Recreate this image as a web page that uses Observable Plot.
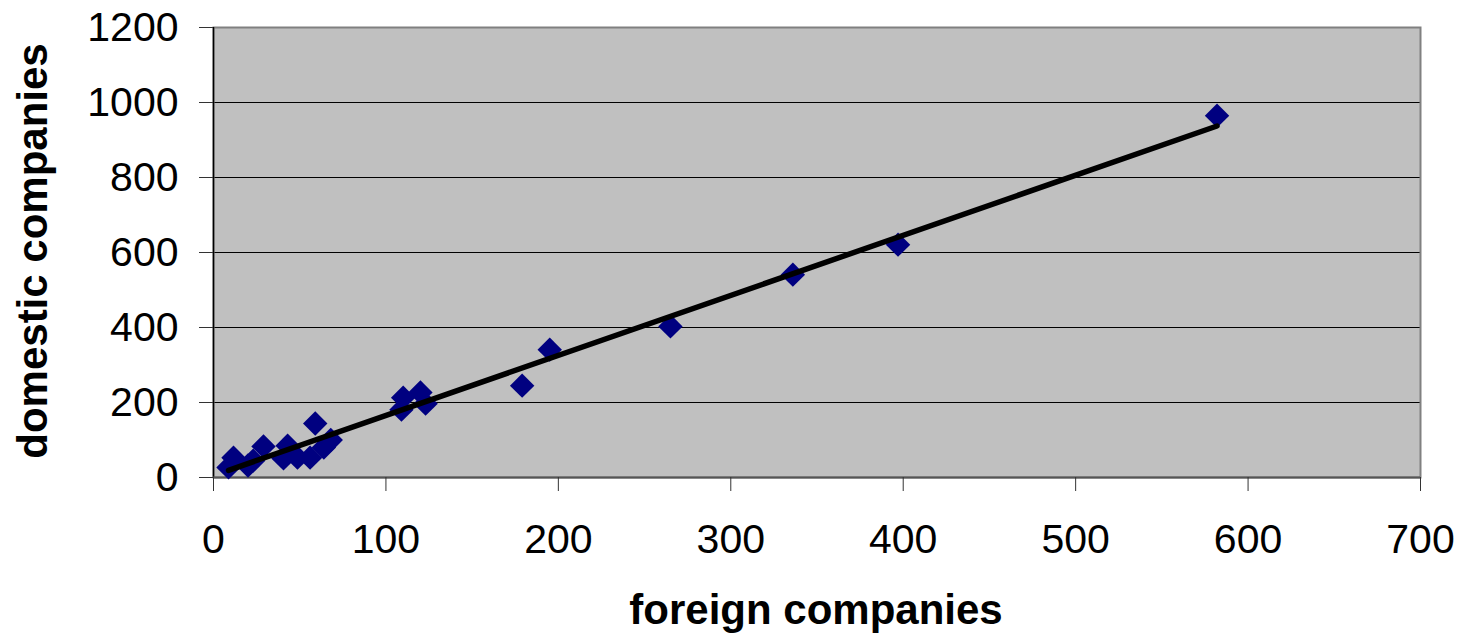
<!DOCTYPE html>
<html>
<head>
<meta charset="utf-8">
<script src="https://cdn.jsdelivr.net/npm/d3@7"></script>
<script src="https://cdn.jsdelivr.net/npm/@observablehq/plot@0.6"></script>
<style>
  html, body { margin: 0; padding: 0; background: #fff; }
</style>
</head>
<body>
<div id="chart"></div>
<script>
const foreign  = [8.7, 11.6, 20, 23, 29, 40.6, 43, 48.7, 56, 59, 64, 68, 109, 110, 120, 123, 179, 195, 265, 336, 397, 582];
const domestic = [27, 53, 32, 45, 83, 51, 85, 53, 53, 144, 80, 100, 181, 213, 227, 197, 245, 341, 403, 541, 621, 965];
const xTicks = [0, 100, 200, 300, 400, 500, 600, 700];
const yTicks = [0, 200, 400, 600, 800, 1000, 1200];
const xTitle = "foreign companies";
const yTitle = "domestic companies";

const data = foreign.map((f, i) => ({foreign: f, domestic: domestic[i]}));

const svg = Plot.plot({
  width: 1469,
  height: 638,
  marginLeft: 213,
  marginRight: 49,
  marginTop: 27,
  marginBottom: 161,
  style: {fontFamily: "'Liberation Sans', Arial, sans-serif", fontSize: "41px", background: "#fff", color: "#000"},
  x: {domain: [0, 700]},
  y: {domain: [0, 1200]},
  marks: [
    Plot.frame({fill: "#c0c0c0"}),
    Plot.gridY(yTicks, {stroke: "#000", strokeOpacity: 1, strokeWidth: 1}),
    Plot.frame({stroke: "#808080", strokeWidth: 2}),
    Plot.ruleX([0], {stroke: "#000", strokeWidth: 1.5}),
    Plot.ruleY([0], {stroke: "#555", strokeWidth: 2}),
    Plot.axisY(yTicks, {tickSize: 14, tickPadding: 21, label: null, tickFormat: d3.format("d"), stroke: "#333"}),
    Plot.axisX(xTicks, {tickSize: 14, tickPadding: 32, label: null, tickFormat: d3.format("d"), stroke: "#333"}),
    Plot.dot(data, {x: "foreign", y: "domestic", symbol: "diamond2", r: 11, fill: "#000080", stroke: "none"}),
    Plot.linearRegressionY(data, {x: "foreign", y: "domestic", stroke: "#000", strokeWidth: 5.5, ci: 0})
  ]
});

const s = d3.select(svg);
s.append("text")
  .attr("x", 816).attr("y", 624)
  .attr("text-anchor", "middle")
  .attr("font-size", 42).attr("font-weight", "bold")
  .attr("fill", "#000")
  .text(xTitle);
s.append("text")
  .attr("transform", "translate(47,251) rotate(-90)")
  .attr("text-anchor", "middle")
  .attr("font-size", 42).attr("font-weight", "bold")
  .attr("fill", "#000")
  .text(yTitle);

document.getElementById("chart").appendChild(svg);
</script>
</body>
</html>
